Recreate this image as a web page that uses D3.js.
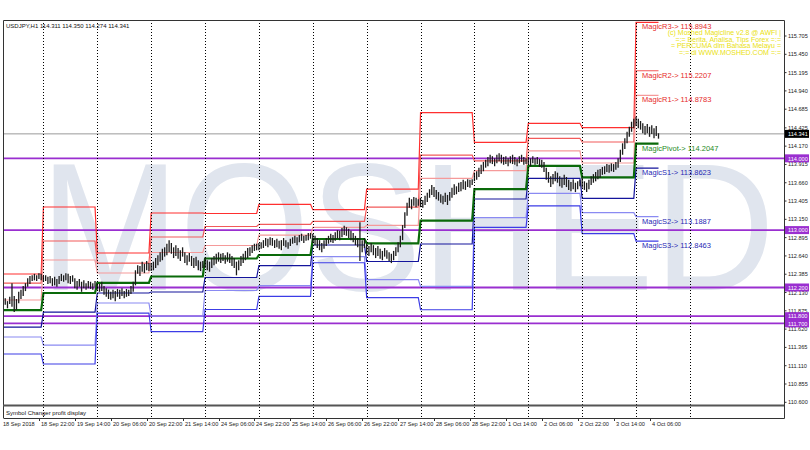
<!DOCTYPE html>
<html>
<head>
<meta charset="utf-8">
<script src="https://cdnjs.cloudflare.com/ajax/libs/d3/7.8.5/d3.min.js"></script>
<style>
  body { margin: 0; background: #fff; }
  svg { display: block; }
</style>
</head>
<body>
<div id="chart"></div>
<script>
// hourly bars, 18 Sep 2018 06:00 .. 4 Oct 2018 10:00 (one entry per bar)
const barHigh = [
  // 18 Sep
  112.03,112.05,112.01,112.07,112.26,112.08,112.04,112.14,112.17,112.22,112.26,112.33,112.36,112.37,112.39,112.37,112.40,112.39,
  // 19 Sep
  112.36,112.37,112.35,112.36,112.33,112.35,112.32,112.36,112.39,112.37,112.40,112.39,112.36,112.37,112.33,112.29,112.32,112.28,112.30,112.26,112.29,112.28,112.26,112.29,
  // 20 Sep
  112.26,112.25,112.28,112.22,112.19,112.17,112.14,112.17,112.15,112.18,112.17,112.19,112.15,112.18,112.17,112.22,112.28,112.44,112.51,112.50,112.56,112.53,112.57,112.54,
  // 21 Sep
  112.54,112.56,112.61,112.65,112.69,112.74,112.76,112.81,112.86,112.82,112.76,112.79,112.75,112.72,112.76,112.69,112.65,112.68,112.64,112.61,112.63,112.58,112.56,112.57,
  // 24 Sep
  112.61,112.58,112.56,112.61,112.64,112.67,112.69,112.67,112.68,112.65,112.69,112.67,112.64,112.61,112.56,112.58,112.64,112.67,112.71,112.75,112.76,112.79,112.81,112.81,
  // 25 Sep
  112.82,112.83,112.86,112.89,112.88,112.90,112.89,112.86,112.88,112.85,112.86,112.89,112.86,112.83,112.88,112.90,112.92,112.90,112.93,112.95,112.92,112.93,112.96,112.96,
  // 26 Sep
  112.95,112.92,112.89,112.86,112.82,112.86,112.89,112.92,112.95,112.93,112.97,113.00,112.99,113.03,113.06,113.04,113.02,112.99,112.96,112.92,112.89,113.11,112.86,112.89,
  // 27 Sep
  112.81,112.78,112.82,112.79,112.75,112.78,112.74,112.71,112.75,112.72,112.69,112.67,112.71,112.76,112.83,112.92,113.07,113.25,113.38,113.45,113.43,113.46,113.45,113.43,
  // 28 Sep
  113.45,113.42,113.48,113.52,113.57,113.63,113.60,113.56,113.53,113.50,113.48,113.52,113.49,113.53,113.59,113.64,113.61,113.66,113.67,113.70,113.68,113.71,113.70,113.71,
  // 1 Oct
  113.80,113.82,113.87,113.91,113.95,113.98,114.02,114.05,114.03,114.00,114.05,114.07,114.05,114.02,114.03,114.00,114.03,114.05,114.02,113.99,114.03,114.05,114.02,114.00,
  // 2 Oct
  114.02,114.00,114.03,114.00,114.02,113.99,113.98,113.95,113.87,113.81,113.75,113.78,113.82,113.80,113.75,113.73,113.77,113.74,113.70,113.67,113.71,113.66,113.68,113.70,
  // 3 Oct
  113.73,113.68,113.66,113.70,113.75,113.78,113.81,113.84,113.85,113.88,113.89,113.92,113.91,113.93,113.92,113.95,114.00,114.12,114.21,114.28,114.37,114.44,114.51,114.55,
  // 4 Oct
  114.58,114.55,114.52,114.49,114.45,114.48,114.44,114.46,114.42,114.45,114.350
];
const barLow = [
  // 18 Sep
  111.94,111.96,111.91,111.97,111.93,111.86,111.89,111.98,112.04,112.08,112.15,112.21,112.25,112.29,112.30,112.29,112.32,112.30,
  // 19 Sep
  112.28,112.29,112.25,112.26,112.22,112.23,112.21,112.25,112.29,112.28,112.30,112.26,112.25,112.28,112.19,112.17,112.21,112.14,112.19,112.17,112.19,112.18,112.17,112.21,
  // 20 Sep
  112.17,112.14,112.15,112.10,112.07,112.04,112.03,112.05,112.01,112.07,112.04,112.08,112.05,112.07,112.08,112.11,112.14,112.23,112.39,112.36,112.42,112.40,112.44,112.43,
  // 21 Sep
  112.43,112.44,112.47,112.51,112.56,112.58,112.63,112.65,112.69,112.67,112.61,112.64,112.60,112.57,112.63,112.54,112.51,112.56,112.50,112.47,112.50,112.44,112.43,112.47,
  // 24 Sep
  112.47,112.44,112.42,112.47,112.51,112.53,112.56,112.54,112.57,112.53,112.56,112.54,112.50,112.47,112.37,112.44,112.50,112.54,112.58,112.61,112.64,112.68,112.71,112.72,
  // 25 Sep
  112.72,112.74,112.75,112.78,112.76,112.79,112.78,112.75,112.76,112.74,112.72,112.78,112.76,112.74,112.78,112.81,112.82,112.79,112.83,112.85,112.82,112.85,112.86,112.88,
  // 26 Sep
  112.82,112.79,112.75,112.72,112.69,112.74,112.78,112.81,112.83,112.82,112.85,112.88,112.86,112.90,112.93,112.92,112.89,112.86,112.83,112.79,112.76,112.57,112.69,112.75,
  // 27 Sep
  112.67,112.64,112.69,112.65,112.61,112.64,112.60,112.58,112.63,112.60,112.57,112.54,112.58,112.64,112.69,112.76,112.86,113.03,113.20,113.31,113.29,113.34,113.32,113.34,
  // 28 Sep
  113.32,113.31,113.35,113.39,113.45,113.49,113.46,113.43,113.41,113.38,113.36,113.39,113.35,113.41,113.45,113.49,113.50,113.53,113.54,113.57,113.56,113.60,113.59,113.63,
  // 1 Oct
  113.68,113.70,113.74,113.78,113.82,113.87,113.89,113.93,113.92,113.89,113.93,113.96,113.93,113.91,113.92,113.89,113.93,113.92,113.91,113.89,113.93,113.95,113.91,113.92,
  // 2 Oct
  113.92,113.89,113.93,113.91,113.92,113.88,113.87,113.81,113.70,113.66,113.60,113.64,113.68,113.66,113.61,113.59,113.63,113.60,113.56,113.54,113.57,113.53,113.57,113.61,
  // 3 Oct
  113.59,113.56,113.53,113.57,113.63,113.66,113.68,113.71,113.73,113.77,113.78,113.81,113.80,113.82,113.81,113.84,113.87,113.95,114.05,114.13,114.21,114.30,114.37,114.42,
  // 4 Oct
  114.45,114.42,114.40,114.35,114.33,114.35,114.30,114.34,114.28,114.31,114.274
];

// first bar of each trading day (18 Sep .. 4 Oct)
const dayStart = [0, 18, 42, 66, 90, 114, 138, 162, 186, 210, 234, 258, 282];
// period separators (day starts, last one is in the empty future area)
const separatorBars = [18, 42, 66, 90, 114, 138, 162, 186, 210, 234, 258, 282, 306];

// daily pivot levels, one value per day
const pivotR3 = [112.388, 113.322, 112.681, 113.238, 113.231, 113.359, 113.285, 113.571, 114.637, 114.222, 114.488, 114.427, 115.8943];
const pivotR2 = [112.262, 112.848, 112.541, 112.904, 113.050, 113.081, 113.122, 113.320, 114.046, 113.964, 114.279, 114.228, 115.2207];
const pivotR1 = [112.026, 112.583, 112.402, 112.688, 112.785, 112.931, 113.039, 113.066, 113.722, 113.828, 114.105, 113.935, 114.8783];
const pivotP  = [111.886, 112.123, 112.263, 112.353, 112.604, 112.653, 112.876, 112.816, 113.131, 113.570, 113.896, 113.736, 114.2047];
const pivotS1 = [111.649, 111.858, 112.123, 112.137, 112.339, 112.504, 112.792, 112.562, 112.806, 113.433, 113.722, 113.443, 113.8623];
const pivotS2 = [111.510, 111.398, 111.984, 111.802, 112.158, 112.225, 112.629, 112.311, 112.215, 113.175, 113.513, 113.244, 113.1887];
const pivotS3 = [111.273, 111.134, 111.844, 111.586, 111.893, 112.076, 112.545, 112.058, 111.890, 113.039, 113.338, 112.951, 112.8463];

// horizontal lines drawn on the chart
const hLevels = [114.000, 113.000, 112.200, 111.800, 111.700];
const bidPrice = 114.341;

// axis labels
const priceTicks = [115.705, 115.450, 115.195, 114.940, 114.685, 114.425, 114.170, 113.915, 113.660, 113.405,
  113.150, 112.895, 112.640, 112.385, 112.130, 111.875, 111.620, 111.365, 111.110, 110.855, 110.600];
const timeLabels = ["18 Sep 22:00", "19 Sep 14:00", "20 Sep 06:00", "20 Sep 22:00", "21 Sep 14:00", "24 Sep 06:00",
  "24 Sep 22:00", "25 Sep 14:00", "26 Sep 06:00", "26 Sep 22:00", "27 Sep 14:00", "28 Sep 06:00", "28 Sep 22:00",
  "1 Oct 14:00", "2 Oct 06:00", "2 Oct 22:00", "3 Oct 14:00", "4 Oct 06:00"];
const timeLabelBars = [16, 32, 48, 64, 80, 96, 112, 128, 144, 160, 176, 192, 208, 224, 240, 256, 272, 288];

const infoLines = [
  "(c) Moshed Magicline v2.8 @ AWFI |",
  "=:= Berita, Analisa, Tips Forex =:=",
  "= PERCUMA dlm Bahasa Melayu =",
  "=:= di WWW.MOSHED.COM =:="
];

(function () {
  const width = 810, height = 450;
  const frame = { left: 3, right: 784, top: 20, bottom: 405, sub: 418 };
  const font = "'Liberation Sans', Arial, sans-serif";

  const x = d3.scaleLinear().domain([0, 292]).range([3, 658.5]);
  const y = d3.scaleLinear().domain([110.6, 115.705]).range([402.3, 36]);

  const svg = d3.select("#chart").append("svg")
      .attr("width", width)
      .attr("height", height)
      .style("font-family", font);

  svg.append("rect").attr("width", width).attr("height", height).attr("fill", "#fff");

  // watermark (sits fully inside the plot, so no clipping needed)
  svg.append("text")
      .attr("x", 40)
      .attr("y", 290)
      .attr("textLength", 735)
      .attr("lengthAdjust", "spacingAndGlyphs")
      .style("font-size", "182px")
      .attr("fill", "#e0e5ee")
      .text("MOSHED");

  svg.append("clipPath").attr("id", "plotclip")
      .append("rect")
      .attr("x", frame.left).attr("y", frame.top)
      .attr("width", frame.right - frame.left).attr("height", frame.bottom - frame.top);

  const plot = svg.append("g").attr("clip-path", "url(#plotclip)");

  // period separators (also run through the sub window)
  svg.append("g").selectAll("line")
      .data(separatorBars)
      .join("line")
      .attr("x1", d => Math.round(x(d)) + 0.5)
      .attr("x2", d => Math.round(x(d)) + 0.5)
      .attr("y1", frame.top)
      .attr("y2", frame.sub)
      .attr("stroke", "#000")
      .attr("stroke-width", 1)
      .attr("stroke-dasharray", "1,2");

  // bid line
  plot.append("line")
      .attr("x1", frame.left).attr("x2", frame.right)
      .attr("y1", y(bidPrice)).attr("y2", y(bidPrice))
      .attr("stroke", "#9a9a9a").attr("stroke-width", 1);

  // purple horizontal levels
  plot.append("g").selectAll("line")
      .data(hLevels)
      .join("line")
      .attr("x1", frame.left).attr("x2", frame.right)
      .attr("y1", d => y(d)).attr("y2", d => y(d))
      .attr("stroke", "#9a2fd0")
      .attr("stroke-width", 1.8);

  // pivot step lines
  const lastBar = barHigh.length - 1;
  const levelSets = [
    { vals: pivotR3, color: "#ff2f2f", w: 1.2 },
    { vals: pivotR2, color: "#f25a5a", w: 1.2 },
    { vals: pivotR1, color: "#f59a9a", w: 1.2 },
    { vals: pivotS1, color: "#14149c", w: 1.2 },
    { vals: pivotS2, color: "#8a8af2", w: 1.2 },
    { vals: pivotS3, color: "#3c3ce6", w: 1.2 },
    { vals: pivotP,  color: "#0a6a0a", w: 2.2 }
  ];
  const stepLine = d3.line().x(p => x(p[0])).y(p => y(p[1]));
  levelSets.forEach(lv => {
    const pts = [];
    dayStart.forEach((s, d) => {
      const e = d < dayStart.length - 1 ? dayStart[d + 1] - 1 : lastBar;
      pts.push([s, lv.vals[d]], [e, lv.vals[d]]);
    });
    plot.append("path")
        .attr("d", stepLine(pts))
        .attr("fill", "none")
        .attr("stroke", lv.color)
        .attr("stroke-width", lv.w);
  });

  // price bars
  plot.append("g").selectAll("line")
      .data(barHigh)
      .join("line")
      .attr("x1", (d, i) => x(i))
      .attr("x2", (d, i) => x(i))
      .attr("y1", d => y(d))
      .attr("y2", (d, i) => y(barLow[i]))
      .attr("stroke", "#1c1c1c")
      .attr("stroke-width", 1.3);

  // labels of today's levels
  const fmt4 = d3.format(".4f");
  const lastDay = dayStart.length - 1;
  const todayLabels = [
    { name: "MagicR3", v: pivotR3[lastDay], color: "#e62a2a" },
    { name: "MagicR2", v: pivotR2[lastDay], color: "#e62a2a" },
    { name: "MagicR1", v: pivotR1[lastDay], color: "#e62a2a" },
    { name: "MagicPivot", v: pivotP[lastDay], color: "#1c8a1c" },
    { name: "MagicS1", v: pivotS1[lastDay], color: "#2a2ab4" },
    { name: "MagicS2", v: pivotS2[lastDay], color: "#2a2ab4" },
    { name: "MagicS3", v: pivotS3[lastDay], color: "#2a2ab4" }
  ];
  svg.append("g").selectAll("text")
      .data(todayLabels)
      .join("text")
      .attr("x", x(dayStart[lastDay]) + 6)
      .attr("y", d => y(d.v) + 7)
      .style("font-size", "7.5px")
      .attr("fill", d => d.color)
      .text(d => `${d.name}-> ${fmt4(d.v)}`);

  // info text (top right)
  svg.append("g").selectAll("text")
      .data(infoLines)
      .join("text")
      .attr("x", 781)
      .attr("y", (d, i) => 35 + i * 6.5)
      .attr("text-anchor", "end")
      .style("font-size", "7px")
      .attr("fill", "#eadf12")
      .text(d => d);

  // frame
  svg.append("path")
      .attr("d", `M${frame.left + 0.5},${frame.sub}V${frame.top + 0.5}H${frame.right + 0.5}V${frame.sub + 0.5}H${frame.left + 0.5}`)
      .attr("fill", "none").attr("stroke", "#333").attr("stroke-width", 1);
  svg.append("line")
      .attr("x1", frame.left).attr("x2", frame.right)
      .attr("y1", frame.bottom + 0.5).attr("y2", frame.bottom + 0.5)
      .attr("stroke", "#555").attr("stroke-width", 2);

  // title and sub window caption
  svg.append("text").attr("x", 6).attr("y", 27.5)
      .style("font-size", "6px").attr("fill", "#111")
      .text("USDJPY,H1  114.311 114.350 114.274 114.341");
  svg.append("text").attr("x", 6).attr("y", 414.5)
      .style("font-size", "6px").attr("fill", "#111")
      .text("Symbol Changer profit display");

  // price axis
  const axisG = svg.append("g");
  axisG.selectAll("line.tk")
      .data(priceTicks)
      .join("line")
      .attr("class", "tk")
      .attr("x1", frame.right).attr("x2", frame.right + 2.5)
      .attr("y1", d => y(d)).attr("y2", d => y(d))
      .attr("stroke", "#333");
  axisG.selectAll("text.pl")
      .data(priceTicks)
      .join("text")
      .attr("class", "pl")
      .attr("x", 788)
      .attr("y", d => y(d) + 2)
      .style("font-size", "5.6px")
      .attr("fill", "#222")
      .text(d => d.toFixed(3));

  // boxed price markers
  const boxes = hLevels.map(v => ({ v, fill: "#9a2fd0" })).concat([{ v: bidPrice, fill: "#000" }]);
  const boxG = svg.append("g").selectAll("g")
      .data(boxes)
      .join("g")
      .attr("transform", d => `translate(${frame.right + 1},${y(d.v)})`);
  boxG.append("rect")
      .attr("x", 0).attr("y", -4)
      .attr("width", 24).attr("height", 8)
      .attr("fill", d => d.fill);
  boxG.append("text")
      .attr("x", 3).attr("y", 2.2)
      .style("font-size", "5.6px")
      .attr("fill", "#fff")
      .text(d => d.v.toFixed(3));

  // time axis
  svg.append("text").attr("x", x(0)).attr("y", 426)
      .style("font-size", "5.6px").attr("fill", "#222")
      .text("18 Sep 2018");
  const tG = svg.append("g").selectAll("g")
      .data(timeLabels)
      .join("g")
      .attr("transform", (d, i) => `translate(${Math.round(x(timeLabelBars[i])) + 0.5},0)`);
  tG.append("line")
      .attr("y1", frame.sub).attr("y2", frame.sub + 3)
      .attr("stroke", "#333");
  tG.append("text")
      .attr("x", 1.5).attr("y", 426)
      .style("font-size", "5.6px").attr("fill", "#222")
      .text(d => d);
})();
</script>
</body>
</html>
